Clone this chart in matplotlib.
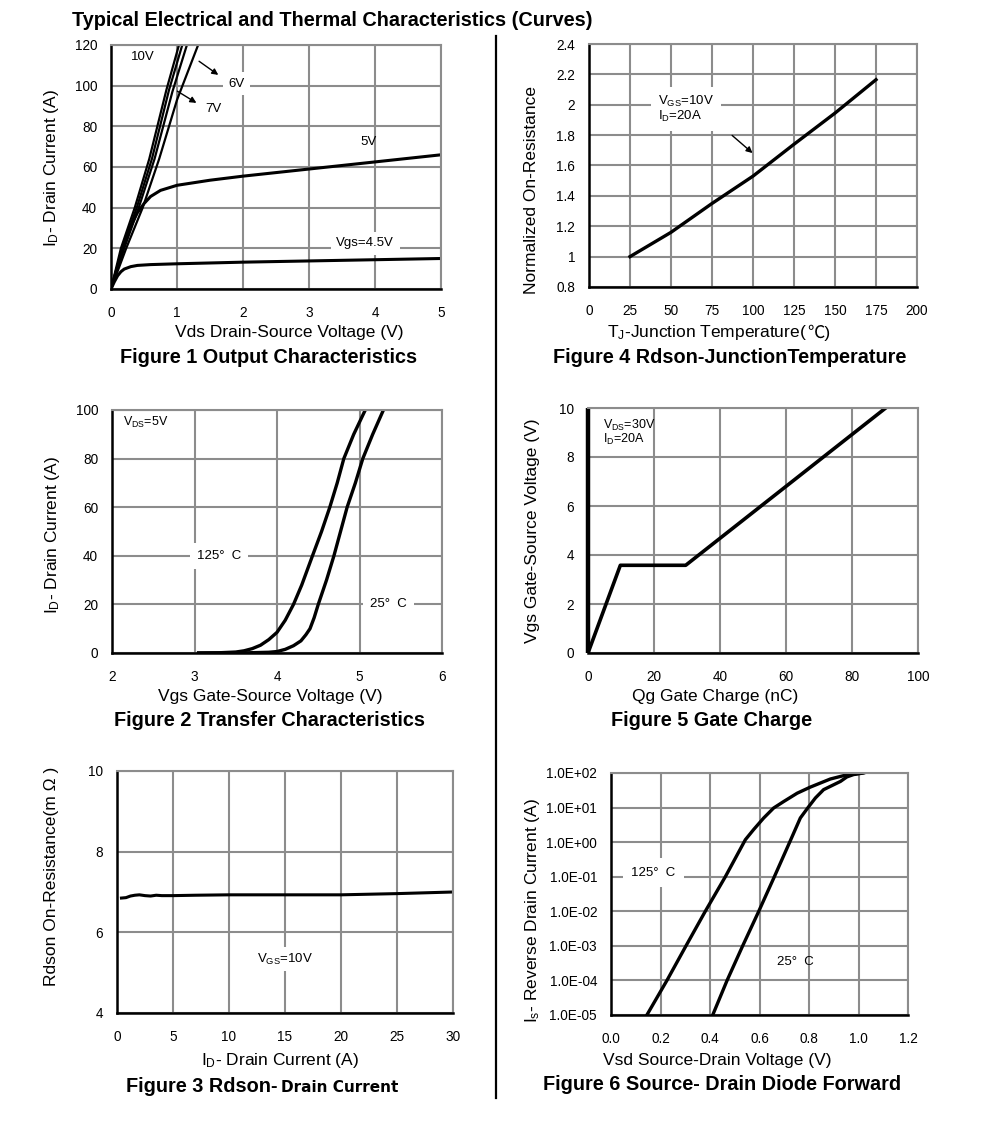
import numpy as np
import matplotlib
matplotlib.use('Agg')
import matplotlib.pyplot as plt
from matplotlib.ticker import FixedLocator, FixedFormatter

plt.rcParams['font.family'] = ['Liberation Sans', 'Noto Sans CJK SC', 'DejaVu Sans']
plt.rcParams['mathtext.fontset'] = 'custom'
plt.rcParams['mathtext.rm'] = 'Liberation Sans'
plt.rcParams['mathtext.it'] = 'Liberation Sans:italic'
plt.rcParams['mathtext.bf'] = 'Liberation Sans:bold'

# Figure 1 - output characteristics
vds_10 = [0, 0.15, 0.36, 0.58, 0.84, 1.03]
id_10 = [0, 20, 40, 64, 98, 120]
vds_8 = [0, 0.17, 0.39, 0.62, 0.88, 1.08]
id_8 = [0, 20, 40, 64, 98, 120]
vds_7 = [0, 0.2, 0.42, 0.66, 0.93, 1.15]
id_7 = [0, 20, 40, 64, 97, 120]
vds_6 = [0, 0.23, 0.48, 0.73, 1.0, 1.32]
id_6 = [0, 20, 40, 64, 93, 120]
vds_5 = [0, 0.1, 0.2, 0.3, 0.4, 0.5, 0.6, 0.75, 1.0, 1.5, 2.0, 3.0, 4.0, 5.0]
id_5 = [0, 11, 22, 31, 37.5, 42, 45.5, 48.5, 51, 53.5, 55.5, 59, 62.5, 66]
vds_45 = [0, 0.05, 0.1, 0.15, 0.2, 0.3, 0.4, 0.6, 1.0, 2.0, 3.0, 4.0, 5.0]
id_45 = [0, 3.5, 6.5, 8.5, 9.8, 11.0, 11.6, 12.0, 12.4, 13.2, 13.8, 14.4, 15.0]

# Figure 4 - normalized Rdson vs Tj
tj = [25, 50, 75, 100, 125, 150, 175]
rdson_norm = [1.0, 1.16, 1.35, 1.53, 1.74, 1.945, 2.165]

# Figure 2 - transfer characteristics
vgs_125 = [3.05, 3.3, 3.5, 3.6, 3.7, 3.8, 3.9, 4.0, 4.1, 4.2, 4.3, 4.43, 4.54, 4.64,
           4.73, 4.81, 4.93, 5.07]
id_125 = [0, 0.1, 0.4, 0.9, 1.8, 3.2, 5.5, 8.5, 13.5, 20, 28, 40, 50, 60, 70, 80, 90, 100]
vgs_25 = [3.05, 3.6, 3.9, 4.0, 4.1, 4.2, 4.29, 4.35, 4.4, 4.45, 4.5, 4.6, 4.69, 4.77,
          4.85, 4.95, 5.04, 5.16, 5.29]
id_25 = [0, 0.05, 0.3, 0.6, 1.5, 3, 5, 7.5, 10, 14.5, 20, 30, 40, 50, 60, 70, 80, 90, 100]

# Figure 5 - gate charge
qg = [0, 9.8, 29.6, 90.2]
vg = [0, 3.58, 3.58, 10.0]

# Figure 3 - Rdson vs drain current
id_r = [0.4, 0.8, 1.2, 1.6, 2.0, 2.5, 3.0, 3.5, 4, 5, 7, 10, 15, 20, 25, 30]
rdson = [6.85, 6.86, 6.90, 6.92, 6.93, 6.91, 6.90, 6.92, 6.91, 6.91, 6.92, 6.93, 6.93, 6.93, 6.96, 7.0]

# Figure 6 - body diode forward
vsd_125 = [0.145, 0.226, 0.303, 0.381, 0.462, 0.543, 0.576, 0.617, 0.657, 0.698, 0.752,
           0.805, 0.886, 0.94, 0.994, 1.014]
is_125 = [1e-5, 1e-4, 1e-3, 1e-2, 1e-1, 1.18, 2.3, 5.0, 9.7, 15, 26, 39, 67, 84, 96, 100]
vsd_25 = [0.411, 0.469, 0.532, 0.597, 0.660, 0.722, 0.765, 0.796, 0.826, 0.859, 0.886,
          0.927, 0.953, 0.98, 1.02]
is_25 = [1e-5, 1e-4, 1e-3, 1e-2, 1e-1, 1, 5, 10, 19, 33, 41, 57, 77, 90, 100]

W, H = 991, 1128
fig = plt.figure(figsize=(W / 100, H / 100), dpi=100)


def box(l, t, r, b):
    return [l / W, 1 - b / H, (r - l) / W, (b - t) / H]


def ftext(x, y, s, **kw):
    return fig.text(x / W, 1 - y / H, s, **kw)


GRID = '#8c8c8c'
TICKFS = 9.8
LABFS = 12.5
CAPFS = 14.3
ANNFS = 9.5


def setup(ax, xt, yt, xlab=None, ylab=None, xlim=None, ylim=None, lw_left=1.8):
    ax.set_xlim(xlim)
    ax.set_ylim(ylim)
    ax.xaxis.set_major_locator(FixedLocator(xt))
    ax.yaxis.set_major_locator(FixedLocator(yt))
    if xlab is not None:
        ax.xaxis.set_major_formatter(FixedFormatter(xlab))
    if ylab is not None:
        ax.yaxis.set_major_formatter(FixedFormatter(ylab))
    ax.grid(True, color=GRID, lw=1.5)
    ax.set_axisbelow(True)
    ax.tick_params(length=0, labelsize=TICKFS)
    ax.tick_params(axis='x', pad=12)
    ax.tick_params(axis='y', pad=10)
    for s in ['top', 'right']:
        ax.spines[s].set_color(GRID)
        ax.spines[s].set_linewidth(1.5)
    ax.spines['left'].set_linewidth(lw_left)
    ax.spines['bottom'].set_linewidth(1.8)


# ---- Figure 1
ax1 = fig.add_axes(box(111, 45, 441, 289))
setup(ax1, range(0, 6), range(0, 121, 20), xlim=(0, 5), ylim=(0, 120))
for x, y in [(vds_10, id_10), (vds_8, id_8), (vds_7, id_7), (vds_6, id_6)]:
    ax1.plot(x, y, color='black', lw=1.6)
ax1.plot(vds_5, id_5, color='black', lw=2.2)
ax1.plot(vds_45, id_45, color='black', lw=2.2)
ax1.text(0.48, 114, '10V', fontsize=ANNFS, ha='center', va='center')
ax1.text(1.9, 101, '6V', fontsize=ANNFS, ha='center', va='center',
         bbox=dict(facecolor='white', edgecolor='none', pad=4))
ax1.text(1.55, 88.5, '7V', fontsize=ANNFS, ha='center', va='center')
ax1.text(3.9, 72.5, '5V', fontsize=ANNFS, ha='center', va='center')
ax1.text(3.85, 22.5, 'Vgs=4.5V', fontsize=ANNFS, ha='center', va='center',
         bbox=dict(facecolor='white', edgecolor='none', pad=4))
ax1.annotate('', xy=(1.66, 104.5), xytext=(1.30, 112.8),
             arrowprops=dict(arrowstyle='-|>', color='black', lw=1.0, mutation_scale=9))
ax1.annotate('', xy=(1.33, 90.8), xytext=(0.97, 98.0),
             arrowprops=dict(arrowstyle='-|>', color='black', lw=1.0, mutation_scale=9))
ftext(289, 333, 'Vds Drain-Source Voltage (V)', fontsize=LABFS, ha='center', va='center')
ftext(52, 168, r'I$_\mathrm{D}$- Drain Current (A)', fontsize=LABFS, ha='center', va='center',
      rotation=90)
ftext(269, 358, 'Figure 1 Output Characteristics', fontsize=CAPFS, fontweight='bold',
      ha='center', va='center')

# ---- Figure 4
ax4 = fig.add_axes(box(589, 44, 917, 287))
setup(ax4, range(0, 201, 25), [0.8, 1.0, 1.2, 1.4, 1.6, 1.8, 2.0, 2.2, 2.4],
      ylab=['0.8', '1', '1.2', '1.4', '1.6', '1.8', '2', '2.2', '2.4'],
      xlim=(0, 200), ylim=(0.8, 2.4))
ax4.plot(tj, rdson_norm, color='black', lw=2.4)
ax4.text(42, 1.97, 'V$_\\mathrm{GS}$=10V\nI$_\\mathrm{D}$=20A', fontsize=ANNFS,
         ha='left', va='center', linespacing=1.0,
         bbox=dict(facecolor='white', edgecolor='none', pad=5))
ax4.annotate('', xy=(101, 1.67), xytext=(86, 1.81),
             arrowprops=dict(arrowstyle='-|>', color='black', lw=1.0, mutation_scale=9))
# x label with the degree-Celsius sign drawn as plain text (no mathtext) so it can fall back
t1 = ftext(607, 333, r'T$_\mathrm{J}$-Junction Temperature(', fontsize=LABFS,
           ha='left', va='center')
bb = t1.get_window_extent(fig.canvas.get_renderer())
fig.text(bb.x1 / W, 1 - 333 / H, '℃)', fontsize=LABFS, ha='left', va='center')
ftext(532, 190, 'Normalized On-Resistance', fontsize=LABFS, ha='center', va='center',
      rotation=90)
ftext(730, 358, 'Figure 4 Rdson-JunctionTemperature', fontsize=CAPFS, fontweight='bold',
      ha='center', va='center')

# ---- Figure 2
ax2 = fig.add_axes(box(112, 410, 442, 653))
setup(ax2, range(2, 7), range(0, 101, 20), xlim=(2, 6), ylim=(0, 100))
ax2.plot(vgs_125, id_125, color='black', lw=2.4)
ax2.plot(vgs_25, id_25, color='black', lw=2.4)
ax2.text(2.13, 95, 'V$_\\mathrm{DS}$=5V', fontsize=ANNFS - 0.5, ha='left', va='center')
ax2.text(3.3, 40, '125°  C', fontsize=ANNFS, ha='center', va='center',
         bbox=dict(facecolor='white', edgecolor='none', pad=5))
ax2.text(5.35, 20, '25°  C', fontsize=ANNFS, ha='center', va='center',
         bbox=dict(facecolor='white', edgecolor='none', pad=5))
ftext(270, 696, 'Vgs Gate-Source Voltage (V)', fontsize=LABFS, ha='center', va='center')
ftext(53, 535, r'I$_\mathrm{D}$- Drain Current (A)', fontsize=LABFS, ha='center', va='center',
      rotation=90)
ftext(269, 721, 'Figure 2 Transfer Characteristics', fontsize=CAPFS, fontweight='bold',
      ha='center', va='center')

# ---- Figure 5
ax5 = fig.add_axes(box(588, 408, 918, 653))
setup(ax5, range(0, 101, 20), range(0, 11, 2), xlim=(0, 100), ylim=(0, 10), lw_left=3.2)
ax5.spines['left'].set_capstyle('butt')
ax5.plot(qg, vg, color='black', lw=2.6)
ax5.text(4.5, 9.0, 'V$_\\mathrm{DS}$=30V\nI$_\\mathrm{D}$=20A', fontsize=ANNFS - 0.5,
         ha='left', va='center', linespacing=0.95)
ftext(715, 696, 'Qg Gate Charge (nC)', fontsize=LABFS, ha='center', va='center')
ftext(533, 531, 'Vgs Gate-Source Voltage (V)', fontsize=LABFS, ha='center', va='center',
      rotation=90)
ftext(712, 721, 'Figure 5 Gate Charge', fontsize=CAPFS, fontweight='bold',
      ha='center', va='center')

# ---- Figure 3
ax3 = fig.add_axes(box(117, 771, 453, 1013))
setup(ax3, range(0, 31, 5), range(4, 11, 2), xlim=(0, 30), ylim=(4, 10))
ax3.plot(id_r, rdson, color='black', lw=2.2)
ax3.text(15, 5.34, 'V$_\\mathrm{GS}$=10V', fontsize=ANNFS, ha='center', va='center',
         bbox=dict(facecolor='white', edgecolor='none', pad=3))
ftext(280, 1060, r'I$_\mathrm{D}$- Drain Current (A)', fontsize=LABFS, ha='center', va='center')
ftext(52, 876, 'Rdson On-Resistance(m Ω )', fontsize=LABFS, ha='center', va='center',
      rotation=90)
ftext(277, 1086, 'Figure 3 Rdson-', fontsize=CAPFS, fontweight='bold', ha='right', va='center')
ftext(281, 1087, 'Drain Current', fontsize=11, fontweight='bold', ha='left', va='center',
      family='DejaVu Sans')

# ---- Figure 6
ax6 = fig.add_axes(box(611, 773, 908, 1015))
ax6.set_yscale('log')
dec = [1e-5, 1e-4, 1e-3, 1e-2, 1e-1, 1e0, 1e1, 1e2]
setup(ax6, [0, 0.2, 0.4, 0.6, 0.8, 1.0, 1.2], dec,
      xlab=['0.0', '0.2', '0.4', '0.6', '0.8', '1.0', '1.2'],
      ylab=['1.0E-05', '1.0E-04', '1.0E-03', '1.0E-02', '1.0E-01', '1.0E+00', '1.0E+01', '1.0E+02'],
      xlim=(0, 1.2), ylim=(1e-5, 1e2))
ax6.minorticks_off()
ax6.plot(vsd_125, is_125, color='black', lw=2.4)
ax6.plot(vsd_25, is_25, color='black', lw=2.4)
ax6.text(0.17, 0.13, '125°  C', fontsize=ANNFS, ha='center', va='center',
         bbox=dict(facecolor='white', edgecolor='none', pad=6))
ax6.text(0.745, 3.5e-4, '25°  C', fontsize=ANNFS, ha='center', va='center')
ftext(717, 1060, 'Vsd Source-Drain Voltage (V)', fontsize=LABFS, ha='center', va='center')
ftext(532, 911, r'I$_\mathrm{s}$- Reverse Drain Current (A)', fontsize=LABFS, ha='center',
      va='center', rotation=90)
ftext(722, 1085, 'Figure 6 Source- Drain Diode Forward', fontsize=CAPFS, fontweight='bold',
      ha='center', va='center')

# title and divider
ftext(72, 20, 'Typical Electrical and Thermal Characteristics (Curves)', fontsize=CAPFS,
      fontweight='bold', ha='left', va='center')
fig.add_artist(plt.Line2D([496 / W, 496 / W], [1 - 36 / H, 1 - 1098 / H], color='black', lw=1.6))

fig.savefig('out.png', dpi=100)
